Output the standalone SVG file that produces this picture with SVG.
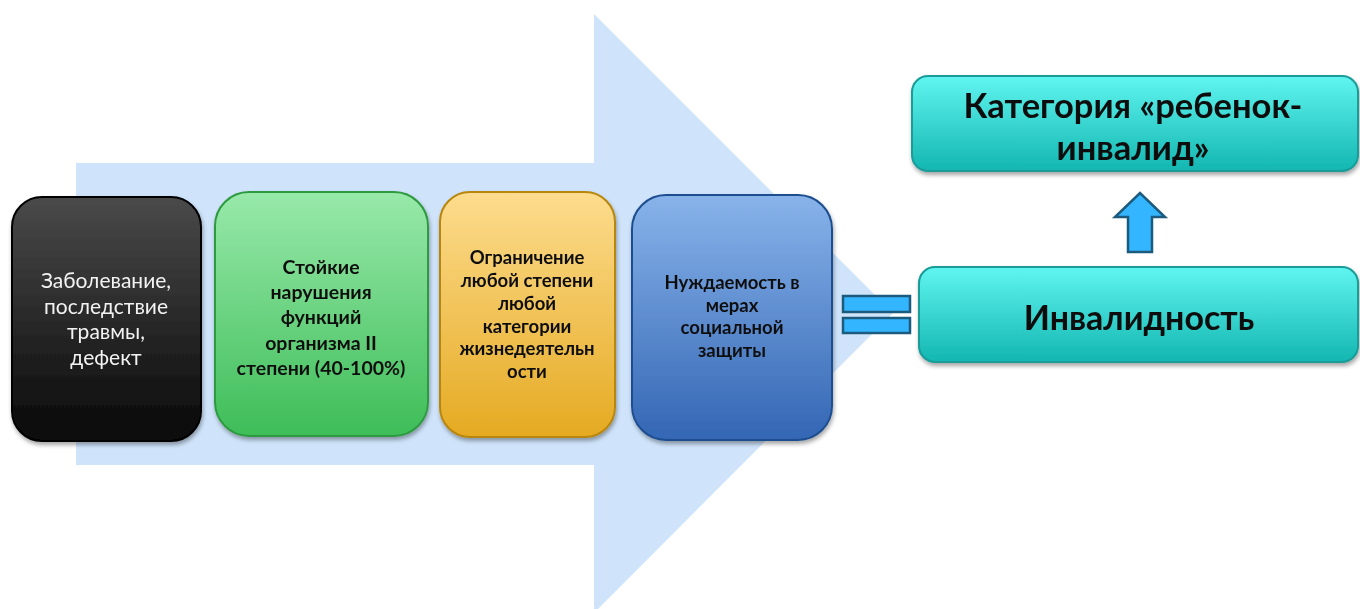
<svg xmlns="http://www.w3.org/2000/svg" width="1360" height="609" viewBox="0 0 1360 609">
<defs>
<linearGradient id="gBlack" x1="0" y1="0" x2="0" y2="1"><stop offset="0" stop-color="#4a4a4a"/><stop offset="1" stop-color="#080808"/></linearGradient>
<linearGradient id="gGreen" x1="0" y1="0" x2="0" y2="1"><stop offset="0" stop-color="#98e9aa"/><stop offset="1" stop-color="#3ebd58"/></linearGradient>
<linearGradient id="gOrange" x1="0" y1="0" x2="0" y2="1"><stop offset="0" stop-color="#fddc8e"/><stop offset="1" stop-color="#e5aa22"/></linearGradient>
<linearGradient id="gBlue" x1="0" y1="0" x2="0" y2="1"><stop offset="0" stop-color="#88b3ea"/><stop offset="1" stop-color="#3366b4"/></linearGradient>
<linearGradient id="gTeal" x1="0" y1="0" x2="0" y2="1"><stop offset="0" stop-color="#60f5f0"/><stop offset="1" stop-color="#13b6b1"/></linearGradient>
<filter id="sh" x="-10%" y="-10%" width="120%" height="125%"><feDropShadow dx="1" dy="3" stdDeviation="2" flood-color="#000" flood-opacity="0.35"/></filter>
<style>
.t{font-family:Lato,"Open Sans",sans-serif;text-anchor:middle}
.b{font-weight:bold;fill:#111}
.sym{fill:#33b5ff;stroke:#1d5b7e;stroke-width:2.5}
</style>
</defs>
<g id="bigArrow">
<polygon points="76,163 594,163 594,14 893,313 594,613 594,465 76,465" fill="#cfe4fb"/>
</g>
<g id="n1" filter="url(#sh)">
<rect x="12" y="197" width="189" height="244" rx="30" fill="url(#gBlack)" stroke="#000" stroke-width="2"/>
<text class="t" font-size="21" fill="#f2f2f2"><tspan x="106" y="288">Заболевание,</tspan><tspan x="106" y="314">последствие</tspan><tspan x="106" y="339">травмы,</tspan><tspan x="106" y="365">дефект</tspan></text>
</g>
<g id="n2" filter="url(#sh)">
<rect x="215" y="192" width="213" height="244" rx="34" fill="url(#gGreen)" stroke="#2f9a40" stroke-width="2"/>
<text class="t b" font-size="19.5"><tspan x="321" y="274">Стойкие</tspan><tspan x="321" y="299">нарушения</tspan><tspan x="321" y="324">функций</tspan><tspan x="321" y="350">организма II</tspan><tspan x="321" y="375">степени (40-100%)</tspan></text>
</g>
<g id="n3" filter="url(#sh)">
<rect x="440" y="192" width="175" height="245" rx="30" fill="url(#gOrange)" stroke="#b8860b" stroke-width="2"/>
<text class="t b" font-size="18.5"><tspan x="527" y="264">Ограничение</tspan><tspan x="527" y="287">любой степени</tspan><tspan x="527" y="310">любой</tspan><tspan x="527" y="333">категории</tspan><tspan x="527" y="355">жизнедеятельн</tspan><tspan x="527" y="378">ости</tspan></text>
</g>
<g id="n4" filter="url(#sh)">
<rect x="632" y="195" width="200" height="245" rx="34" fill="url(#gBlue)" stroke="#1f4e8f" stroke-width="2"/>
<text class="t b" font-size="18.5"><tspan x="732" y="289">Нуждаемость в</tspan><tspan x="732" y="312">мерах</tspan><tspan x="732" y="334">социальной</tspan><tspan x="732" y="357">защиты</tspan></text>
</g>
<g id="equals">
<rect class="sym" x="843" y="296" width="67" height="16"/>
<rect class="sym" x="843" y="318" width="67" height="15"/>
</g>
<g id="n5" filter="url(#sh)">
<rect x="912" y="76" width="446" height="95" rx="16" fill="url(#gTeal)" stroke="#1a9c98" stroke-width="2"/>
<text class="t b" font-size="34.5"><tspan x="1133" y="118">Категория «ребенок-</tspan><tspan x="1133" y="160">инвалид»</tspan></text>
</g>
<g id="n6" filter="url(#sh)">
<rect x="919" y="267" width="439" height="95" rx="16" fill="url(#gTeal)" stroke="#1a9c98" stroke-width="2"/>
<text class="t b" font-size="34" x="1139" y="330">Инвалидность</text>
</g>
<g id="connectors">
<polygon class="sym" points="1128,252 1152,252 1152,217 1165,217 1140,193 1115,217 1128,217"/>
</g>
</svg>
